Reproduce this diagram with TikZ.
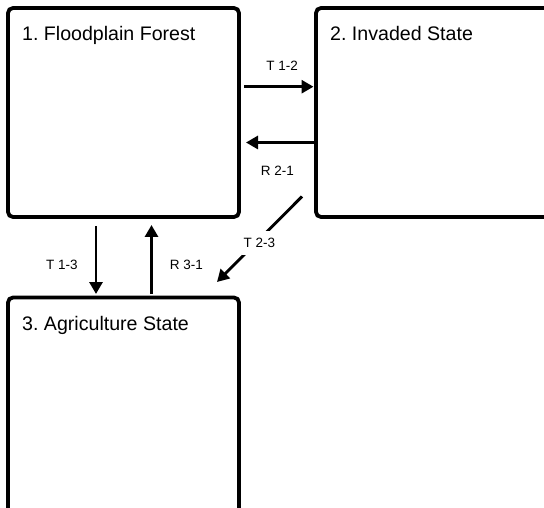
\documentclass[tikz,border=0pt]{standalone}
\usepackage{fontspec}
\setmainfont{Liberation Sans}
\usetikzlibrary{arrows.meta}
\frenchspacing

\tikzset{
  statebox/.style={draw, line width=3.8pt, rounded corners=5pt, outer sep=0pt, inner sep=0pt, anchor=north west},
  statename/.style={anchor=base west, inner sep=0pt, font=\fontsize{19.6}{23}\selectfont},
  trans/.style={line width=2.9pt, -{Triangle[length=12pt,width=13pt]}},
  translabel/.style={inner sep=0pt, font=\fontsize{13.5}{16}\selectfont}
}

\begin{document}
\begin{tikzpicture}[x=1pt,y=-1pt]
  \useasboundingbox (0,0) rectangle (544,508);
  \clip (0,0) rectangle (544,508); % caixas 2 e 3 saem da figura
  \node[statebox, minimum width=231pt, minimum height=209pt] (forest) at (8,8) {}; % estado 1
  \node[statebox, minimum width=260pt, minimum height=209pt] (invaded) at (316,8) {}; % estado 2
  \node[statebox, minimum width=231pt, minimum height=230pt] (agri) at (8,297.5) {}; % estado 3
  \node[statename] (forestname) at ([shift={(14pt,-33pt)}]forest.north west) {1. Floodplain Forest};
  \node[statename] (invadedname) at ([shift={(14pt,-33pt)}]invaded.north west) {2. Invaded State};
  \node[statename] (agriname) at ([shift={(14pt,-33pt)}]agri.north west) {3. Agriculture State};
  \draw[trans, shorten <=5pt, shorten >=2.5pt] ([yshift=25.8pt]forest.east) -- ([yshift=25.8pt]invaded.west) node[translabel, pos=0.56, above=15pt] (t12) {T 1-2}; % 1 -> 2
  \draw[trans, shorten <=2pt, shorten >=7pt] ([yshift=-30pt]invaded.west) -- ([yshift=-30pt]forest.east) node[translabel, midway, below=22pt] (r21) {R 2-1}; % 2 -> 1
  \draw[trans, shorten <=9pt, shorten >=3.5pt] ([xshift=-27.5pt]forest.south) -- ([xshift=-27.5pt]agri.north) node[translabel, pos=0.6, left=17pt] (t13) {T 1-3}; % 1 -> 3
  \draw[trans, shorten <=3.5pt, shorten >=8pt] ([xshift=28pt]agri.north) -- ([xshift=28pt]forest.south) node[translabel, pos=0.41, right=17pt] (r31) {R 3-1}; % 3 -> 1
  \draw[trans] ([shift={(-14pt,20.5pt)}]invaded.south west) -- ([shift={(-22pt,15.5pt)}]agri.north east) node[translabel, midway, yshift=-4pt, fill=white, inner xsep=2pt, inner ysep=7pt] (t23) {T 2-3}; % 2 -> 3
\end{tikzpicture}
\end{document}
